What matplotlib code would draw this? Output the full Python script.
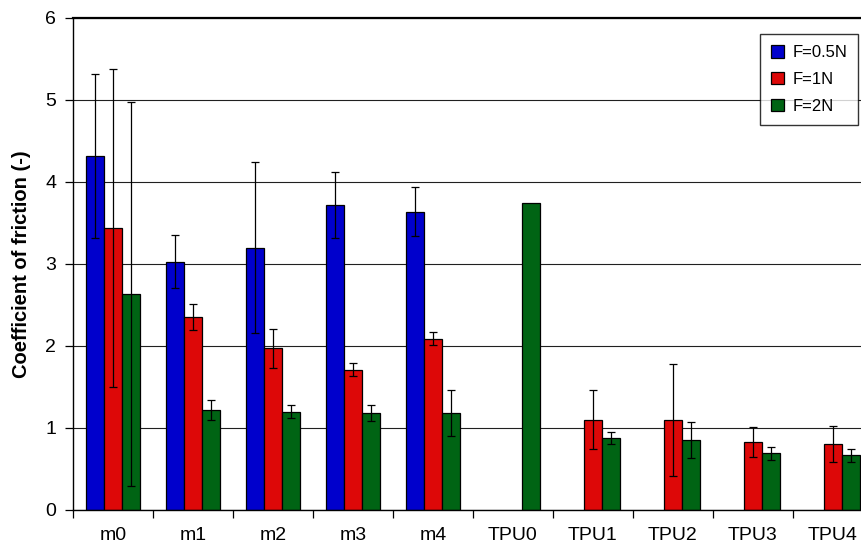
import numpy as np
import matplotlib.pyplot as plt

plt.rcParams['font.family'] = ['Liberation Sans', 'DejaVu Sans']

muestras = ['m0', 'm1', 'm2', 'm3', 'm4', 'TPU0', 'TPU1', 'TPU2', 'TPU3', 'TPU4']
series = ['F=0.5N', 'F=1N', 'F=2N']
colores = ['#0000CC', '#DD0808', '#006414']

# coeficiente de friccion medio y desviacion para cada carga
f05 = [4.32, 3.03, 3.20, 3.72, 3.64, np.nan, np.nan, np.nan, np.nan, np.nan]
f1 = [3.44, 2.35, 1.97, 1.71, 2.09, np.nan, 1.10, 1.10, 0.83, 0.80]
f2 = [2.63, 1.22, 1.20, 1.18, 1.18, 3.74, 0.88, 0.85, 0.69, 0.67]

err05 = [1.00, 0.32, 1.04, 0.40, 0.30, np.nan, np.nan, np.nan, np.nan, np.nan]
err1 = [1.94, 0.16, 0.24, 0.08, 0.08, np.nan, 0.36, 0.68, 0.18, 0.22]
err2 = [2.34, 0.12, 0.08, 0.10, 0.28, np.nan, 0.07, 0.22, 0.08, 0.08]

valores = [f05, f1, f2]
errores = [err05, err1, err2]

fig = plt.figure(figsize=(8.62, 5.43), dpi=100)
ax = fig.add_axes([73/862, 33/543, 800/862, 492/543])

x = np.arange(len(muestras))
w = 0.225
for k in range(3):
    ax.bar(x + (k - 1)*w, valores[k], width=w, color=colores[k],
           edgecolor='black', linewidth=0.9, label=series[k], zorder=2)
    ax.errorbar(x + (k - 1)*w, valores[k], yerr=errores[k], fmt='none',
                ecolor='black', elinewidth=0.9, capsize=3, capthick=0.9, zorder=3)

ax.set_xlim(-0.5, 9.5)
ax.set_ylim(0, 6)
ax.set_yticks(range(0, 7))
ax.set_xticks(x)
ax.set_xticklabels(muestras)
ax.set_xticks(np.arange(-0.5, 10, 1), minor=True)
ax.tick_params(axis='x', which='major', length=0, pad=12, labelsize=14)
ax.tick_params(axis='x', which='minor', length=6, width=0.9, direction='out')
ax.tick_params(axis='y', length=6, width=0.9, pad=6, labelsize=14)

ax.yaxis.grid(True, color='#202020', linewidth=0.8)
ax.set_axisbelow(True)
for s in ['left', 'bottom']:
    ax.spines[s].set_linewidth(1.0)
ax.spines['top'].set_linewidth(1.6)
ax.spines['right'].set_visible(False)

ax.set_ylabel('Coefficient of friction (-)', fontsize=14.5, fontweight='bold', labelpad=10)

leg = ax.legend(loc='upper right', bbox_to_anchor=(858/862, 1 - 34/543),
                bbox_transform=fig.transFigure, borderaxespad=0, fontsize=12,
                frameon=True, fancybox=False, edgecolor='black',
                handlelength=0.8, handleheight=0.8, handletextpad=0.5,
                labelspacing=0.7, borderpad=0.65)
leg.get_frame().set_linewidth(1.0)

plt.savefig('out.png', dpi=100)
